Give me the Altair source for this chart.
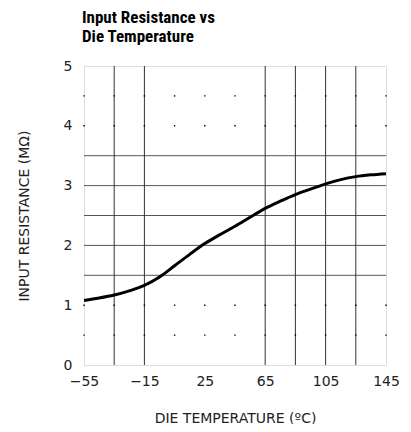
import altair as alt
import pandas as pd

# curve data
temp_c = [-55, -45, -35, -25, -15, -5, 5, 15, 25, 35, 45, 55, 65, 75, 85, 95, 105, 115, 125, 135, 145]
res_mohm = [1.08, 1.12, 1.17, 1.24, 1.33, 1.47, 1.66, 1.85, 2.03, 2.18, 2.32, 2.47, 2.62, 2.74, 2.85, 2.94, 3.03, 3.10, 3.15, 3.18, 3.20]

# grid
v_lines = [-35, -15, 65, 85, 105, 125]
h_lines = [1.5, 2.0, 2.5, 3.0, 3.5]
dot_x = [-55, -35, -15, 5, 25, 45, 65, 85, 105, 125, 145]
dot_y = [0.5, 1.0, 4.0, 4.5]

x_ticks = [-55, -15, 25, 65, 105, 145]
y_ticks = [0, 1, 2, 3, 4, 5]

curve_df = pd.DataFrame({"t": temp_c, "r": res_mohm})
v_df = pd.DataFrame({"t": v_lines})
h_df = pd.DataFrame({"r": h_lines})
dots_df = pd.DataFrame([{"t": x, "r": y} for x in dot_x for y in dot_y])

W, H = 302, 299
LABEL_FONT = "DejaVu Sans"

xscale = alt.Scale(domain=[-55, 145], nice=False, zero=False)
yscale = alt.Scale(domain=[0, 5], nice=False, zero=False)

xaxis = alt.Axis(values=x_ticks, grid=False, ticks=False, domain=False, format="d",
                 labelFont=LABEL_FONT, labelFontSize=14, labelColor="#222",
                 labelPadding=9, labelFlush=False,
                 title="DIE TEMPERATURE (ºC)", titleFont=LABEL_FONT,
                 titleFontSize=14, titleFontWeight="normal", titleColor="#222",
                 titleX=W / 2, titleY=53, titleBaseline="middle")
yaxis = alt.Axis(values=y_ticks, grid=False, ticks=False, domain=False, format="d",
                 labelFont=LABEL_FONT, labelFontSize=14, labelColor="#222",
                 labelPadding=12,
                 title="INPUT RESISTANCE (MΩ)", titleFont=LABEL_FONT,
                 titleFontSize=14, titleFontWeight="normal", titleColor="#222",
                 titleX=-60, titleY=H / 2, titleBaseline="middle")

hrules = alt.Chart(h_df).mark_rule(color="#555", strokeWidth=1).encode(
    y=alt.Y("r:Q", scale=yscale, axis=yaxis)
)
vrules = alt.Chart(v_df).mark_rule(color="#333", strokeWidth=1).encode(
    x=alt.X("t:Q", scale=xscale, axis=xaxis)
)
dots = alt.Chart(dots_df).mark_square(color="black", size=2, opacity=1).encode(
    x=alt.X("t:Q", scale=xscale),
    y=alt.Y("r:Q", scale=yscale),
)
curve = alt.Chart(curve_df).mark_line(color="black", strokeWidth=3, interpolate="monotone").encode(
    x=alt.X("t:Q", scale=xscale),
    y=alt.Y("r:Q", scale=yscale),
)

chart = alt.layer(hrules, vrules, dots, curve).properties(
    width=W, height=H,
    autosize=alt.AutoSizeParams(type="none"),
    padding={"left": 76, "top": 58, "right": 17, "bottom": 59},
    title=alt.TitleParams(
        text=["Input Resistance vs", "Die Temperature"],
        anchor="start", frame="group",
        font="Liberation Sans Narrow, Roboto Condensed, Liberation Sans",
        fontSize=17, fontWeight="bold", color="black",
        lineHeight=19.5, offset=13, dx=-2,
    ),
).configure_view(stroke="black", strokeWidth=1.2).configure(background="white")

chart.save("out.html", embed_options={"renderer": "svg", "actions": False})
